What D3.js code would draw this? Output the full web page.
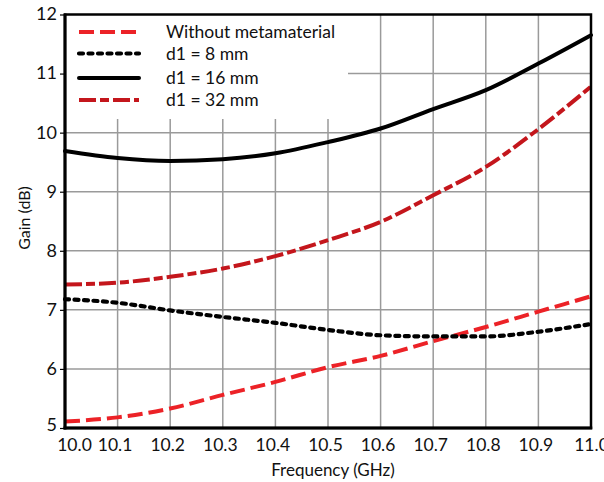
<!DOCTYPE html>
<html>
<head>
<meta charset="utf-8">
<script src="https://cdn.jsdelivr.net/npm/d3@7"></script>
<style>
  html, body { margin: 0; padding: 0; background: #fff; }
  svg { display: block; font-family: Lato, "Noto Sans", sans-serif; }
</style>
</head>
<body>
<svg id="chart" width="604" height="482"></svg>
<script>
const frequency = [10.0, 10.1, 10.2, 10.3, 10.4, 10.5, 10.6, 10.7, 10.8, 10.9, 11.0];
const withoutMeta = [5.11, 5.18, 5.33, 5.56, 5.78, 6.03, 6.22, 6.47, 6.71, 6.97, 7.23];
const d1_8mm  = [7.18, 7.12, 6.99, 6.88, 6.78, 6.66, 6.57, 6.55, 6.55, 6.63, 6.76];
const d1_16mm = [9.69, 9.57, 9.52, 9.55, 9.65, 9.84, 10.07, 10.40, 10.72, 11.17, 11.65];
const d1_32mm = [7.43, 7.46, 7.56, 7.70, 7.91, 8.18, 8.49, 8.94, 9.42, 10.06, 10.78];
const xTicks = [10.0, 10.1, 10.2, 10.3, 10.4, 10.5, 10.6, 10.7, 10.8, 10.9, 11.0];
const yTicks = [5, 6, 7, 8, 9, 10, 11, 12];
const seriesNames = ["Without metamaterial", "d1 = 8 mm", "d1 = 16 mm", "d1 = 32 mm"];

const series = [
  { name: seriesNames[0], values: withoutMeta, color: "#ec2227", dash: "15,6", width: 4, cap: "butt" },
  { name: seriesNames[1], values: d1_8mm, color: "#000000", dash: "4,5.5", width: 4.2, cap: "round" },
  { name: seriesNames[2], values: d1_16mm, color: "#000000", dash: null, width: 4, cap: "round" },
  { name: seriesNames[3], values: d1_32mm, color: "#c4161c", dash: "17,4,9,4", width: 4, cap: "butt" }
];

const svg = d3.select("#chart");
const L = 65, R = 591, T = 14.5, B = 428;
const x = d3.scaleLinear().domain([10.0, 11.0]).range([L, R]);
const y = d3.scaleLinear().domain([5, 12]).range([B, T]);

// grid
const grid = svg.append("g");
grid.selectAll("line.v").data(xTicks.slice(1, -1)).join("line")
  .attr("x1", d => x(d)).attr("x2", d => x(d)).attr("y1", T).attr("y2", B)
  .attr("stroke", "#9a9a9a").attr("stroke-width", 1.5);
grid.selectAll("line.h").data(yTicks.slice(1, -1)).join("line")
  .attr("x1", L).attr("x2", R).attr("y1", d => y(d)).attr("y2", d => y(d))
  .attr("stroke", "#9a9a9a").attr("stroke-width", 1.5);

// legend background (hides grid)
svg.append("rect").attr("x", L).attr("y", T).attr("width", 348 - L).attr("height", 119 - T).attr("fill", "#fff");

// lines
const line = d3.line().x((d, i) => x(frequency[i])).y(d => y(d)).curve(d3.curveMonotoneX);
series.forEach(s => {
  const p = svg.append("path").datum(s.values)
    .attr("d", line).attr("fill", "none")
    .attr("stroke", s.color).attr("stroke-width", s.width)
    .attr("stroke-linecap", s.cap).attr("stroke-linejoin", "round");
  if (s.dash) p.attr("stroke-dasharray", s.dash);
});

// frame
svg.append("rect").attr("x", L).attr("y", T).attr("width", R - L).attr("height", B - T)
  .attr("fill", "none").attr("stroke", "#000").attr("stroke-width", 2.5);
svg.append("line").attr("x1", L).attr("x2", L).attr("y1", T - 1).attr("y2", B + 1.5).attr("stroke", "#000").attr("stroke-width", 3);
svg.append("line").attr("x1", L - 1.5).attr("x2", R + 1.25).attr("y1", B).attr("y2", B).attr("stroke", "#000").attr("stroke-width", 3);

// axes
const yAxis = d3.axisLeft(y).tickValues(yTicks).tickSize(4).tickPadding(3).tickFormat(d3.format("d"));
const gy = svg.append("g").attr("transform", `translate(${L - 1},0)`).call(yAxis);
gy.select(".domain").remove();
gy.selectAll(".tick line").attr("stroke", "#000").attr("stroke-width", 1.2);
gy.selectAll(".tick text").attr("font-size", 18).attr("fill", "#111").attr("font-family", "Lato, sans-serif")
  .attr("dy", d => d === 5 ? "0.12em" : "0.3em");

const xAxis = d3.axisBottom(x).tickValues(xTicks).tickSize(0).tickPadding(11).tickFormat(d3.format(".1f"));
const gx = svg.append("g").attr("transform", `translate(0,${B})`).call(xAxis);
gx.select(".domain").remove();
gx.selectAll(".tick text").attr("font-size", 17.5).attr("fill", "#111").attr("font-family", "Lato, sans-serif")
  .attr("dx", d => d === 10.0 ? 9 : (d === 11.0 ? 0 : -3));

// axis titles
svg.append("text").attr("x", 333).attr("y", 476).attr("text-anchor", "middle")
  .attr("font-size", 17).attr("fill", "#111").text("Frequency (GHz)");
svg.append("text").attr("transform", "translate(30,218) rotate(-90)").attr("text-anchor", "middle")
  .attr("font-size", 16).attr("fill", "#111").text("Gain (dB)");

// legend
const legendY = [32, 53.5, 78, 100];
series.forEach((s, i) => {
  const ly = legendY[i];
  const l = svg.append("line").attr("x1", 79).attr("x2", 139).attr("y1", ly).attr("y2", ly)
    .attr("stroke", s.color).attr("stroke-width", s.width).attr("stroke-linecap", s.cap);
  if (s.dash) l.attr("stroke-dasharray", s.dash);
  svg.append("text").attr("x", 166).attr("y", ly).attr("dy", "0.36em")
    .attr("font-size", 17.5).attr("fill", "#111").text(s.name);
});
</script>
</body>
</html>
